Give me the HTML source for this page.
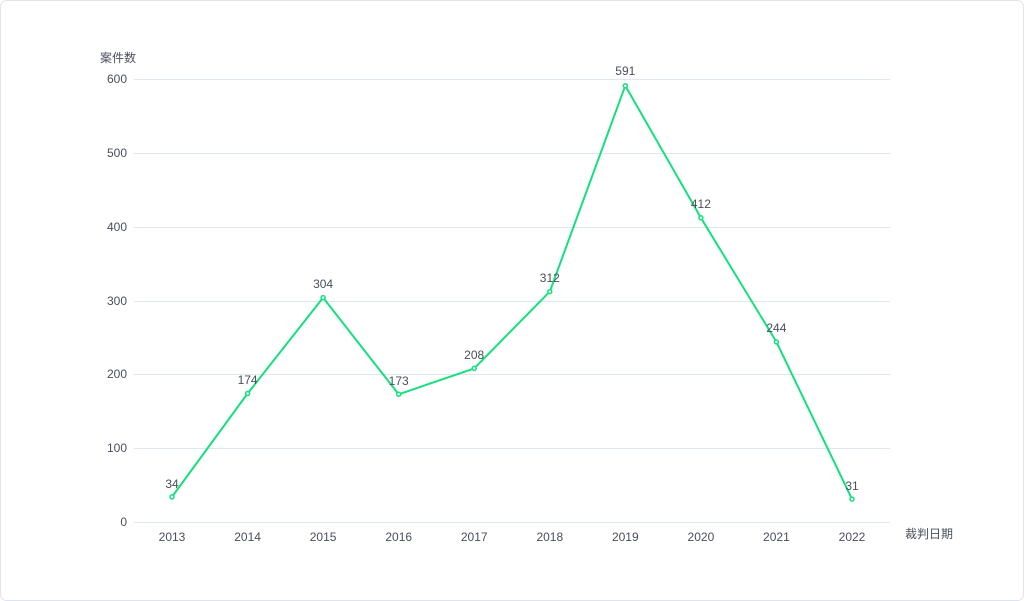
<!DOCTYPE html>
<html><head><meta charset="utf-8"><style>
html,body{margin:0;padding:0;background:#fff;}
svg{display:block;font-family:"Liberation Sans","Noto Sans CJK SC",sans-serif;}
</style></head><body>
<svg width="1024" height="601" viewBox="0 0 1024 601">
<rect x="0.5" y="0.5" width="1023" height="600" rx="6" fill="#fff" stroke="#e0e2ee"/>
<g stroke="#e0e6f1" stroke-width="1">
<line x1="134" x2="890" y1="79.5" y2="79.5"/>
<line x1="134" x2="890" y1="153.5" y2="153.5"/>
<line x1="134" x2="890" y1="227.5" y2="227.5"/>
<line x1="134" x2="890" y1="301.5" y2="301.5"/>
<line x1="134" x2="890" y1="374.5" y2="374.5"/>
<line x1="134" x2="890" y1="448.5" y2="448.5"/>
<line x1="134" x2="890" y1="522.5" y2="522.5"/>
</g>
<g fill="#4a4e5c" font-size="12" text-anchor="end">
<text x="127" y="83">600</text><text x="127" y="157">500</text><text x="127" y="231">400</text>
<text x="127" y="305">300</text><text x="127" y="378">200</text><text x="127" y="452">100</text><text x="127" y="526">0</text>
</g>
<text x="100" y="62" font-size="12" fill="#4a4e5c">案件数</text>
<text x="905" y="538" font-size="12" fill="#4a4e5c">裁判日期</text>
<g fill="#4a4e5c" font-size="12" text-anchor="middle">
<text x="172" y="541">2013</text><text x="247.6" y="541">2014</text><text x="323.1" y="541">2015</text>
<text x="398.7" y="541">2016</text><text x="474.2" y="541">2017</text><text x="549.8" y="541">2018</text>
<text x="625.3" y="541">2019</text><text x="700.9" y="541">2020</text><text x="776.4" y="541">2021</text>
<text x="852" y="541">2022</text>
</g>
<polyline fill="none" stroke="#16df7e" stroke-width="2" stroke-linejoin="round" points="172,496.9 247.6,393.5 323.1,297.6 398.7,394.3 474.2,368.4 549.8,291.6 625.3,85.7 700.9,217.8 776.4,341.9 852,499.1"/>
<g fill="#fff" stroke="#16df7e" stroke-width="1.5">
<circle cx="172" cy="496.9" r="2"/><circle cx="247.6" cy="393.5" r="2"/><circle cx="323.1" cy="297.6" r="2"/>
<circle cx="398.7" cy="394.3" r="2"/><circle cx="474.2" cy="368.4" r="2"/><circle cx="549.8" cy="291.6" r="2"/>
<circle cx="625.3" cy="85.7" r="2"/><circle cx="700.9" cy="217.8" r="2"/><circle cx="776.4" cy="341.9" r="2"/>
<circle cx="852" cy="499.1" r="2"/>
</g>
<g fill="#4a4e5c" font-size="12" text-anchor="middle">
<text x="172" y="488">34</text><text x="247.6" y="384">174</text><text x="323.1" y="288">304</text>
<text x="398.7" y="385">173</text><text x="474.2" y="359">208</text><text x="549.8" y="282">312</text>
<text x="625.3" y="75">591</text><text x="700.9" y="208">412</text><text x="776.4" y="332">244</text>
<text x="852" y="490">31</text>
</g>
</svg>
</body></html>
